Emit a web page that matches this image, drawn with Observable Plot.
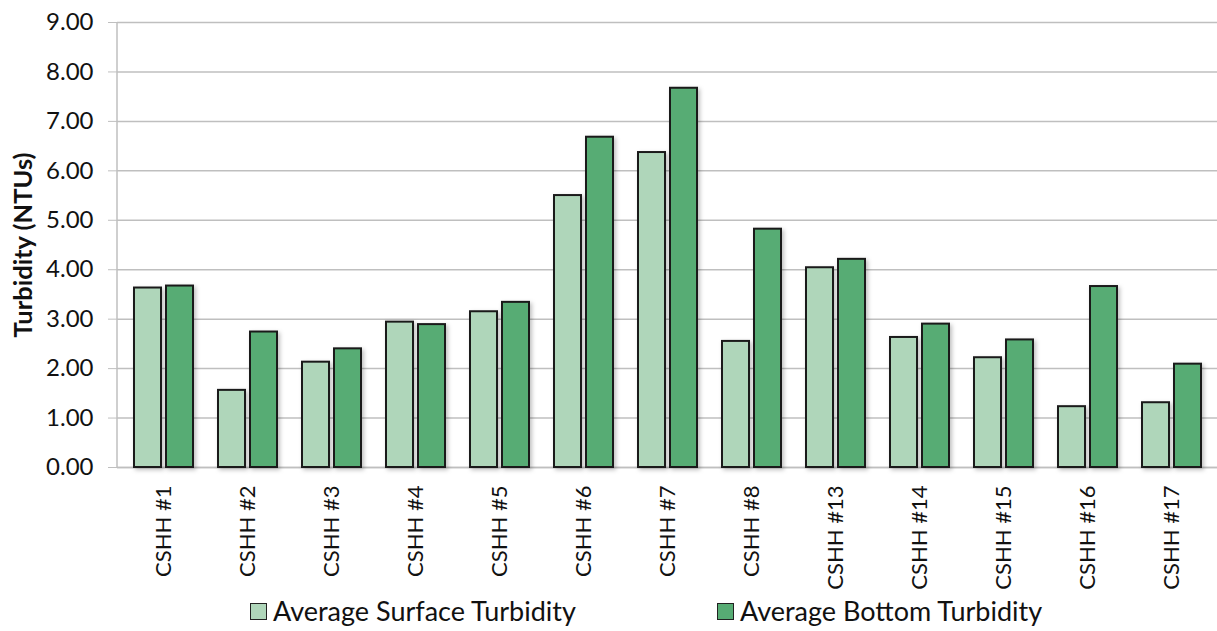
<!DOCTYPE html>
<html>
<head>
<meta charset="utf-8">
<script src="https://cdn.jsdelivr.net/npm/d3@7"></script>
<script src="https://cdn.jsdelivr.net/npm/@observablehq/plot@0.6"></script>
<style>
  html, body { margin: 0; padding: 0; background: #fff; }
  #wrap { position: relative; width: 1217px; height: 631px; font-family: Lato, "Open Sans", sans-serif; }
  #chart svg rect.bar { filter: drop-shadow(2px 2px 2px rgba(0,0,0,0.25)); }
  #chart svg g[aria-label='y-axis tick label'] { font-size: 24px !important; }
  #chart svg g[aria-label='x-axis tick label'] { font-size: 22px !important; }
  .leg { position: absolute; top: 594px; display: flex; align-items: center; font-size: 27px; color: #111; white-space: nowrap; line-height: 34px; }
  .sw { width: 15px; height: 15px; border: 1.5px solid #222; margin-right: 6px; }
</style>
</head>
<body>
<div id="wrap">
  <div id="chart"></div>
  <div id="legend"></div>
</div>
<script>
const categories = ["CSHH #1","CSHH #2","CSHH #3","CSHH #4","CSHH #5","CSHH #6","CSHH #7","CSHH #8","CSHH #13","CSHH #14","CSHH #15","CSHH #16","CSHH #17"];
const seriesNames = ["Average Surface Turbidity", "Average Bottom Turbidity"];
const surface = [3.63, 1.56, 2.13, 2.94, 3.15, 5.50, 6.37, 2.55, 4.04, 2.63, 2.22, 1.23, 1.31];
const bottom  = [3.67, 2.74, 2.40, 2.89, 3.34, 6.68, 7.67, 4.82, 4.21, 2.90, 2.58, 3.66, 2.09];
const colors = ["#AFD6BA", "#57AC74"];
const yTicks = [0, 1, 2, 3, 4, 5, 6, 7, 8, 9];

const surfaceData = categories.map((c, i) => ({site: c, series: seriesNames[0], value: surface[i]}));
const bottomData = categories.map((c, i) => ({site: c, series: seriesNames[1], value: bottom[i]}));

const H = 631, MT = 22, MB = 164, ML = 117, MR = 0;

const chart = Plot.plot({
  width: 1217,
  height: H,
  marginTop: MT,
  marginBottom: MB,
  marginLeft: ML,
  marginRight: MR,
  style: {fontFamily: "Lato, 'Open Sans', sans-serif", background: "#fff", color: "#111"},
  x: {domain: categories, paddingInner: 0.3, paddingOuter: 0.15, label: null},
  y: {domain: [0, 9], label: null},
  color: {domain: seriesNames, range: colors},
  marks: [
    Plot.gridY(yTicks, {stroke: "#bfbfbf", strokeOpacity: 1, strokeWidth: 1.5}),
    (index, scales, values, dims) => {
      const g = d3.create("svg:g");
      g.append("line")
        .attr("x1", dims.marginLeft).attr("x2", dims.marginLeft)
        .attr("y1", dims.marginTop).attr("y2", dims.height - dims.marginBottom)
        .attr("stroke", "#bfbfbf").attr("stroke-width", 1.5);
      return g.node();
    },
    Plot.ruleY([0], {stroke: "#bfbfbf", strokeWidth: 1.5}),
    Plot.barY(surfaceData, {x: "site", y: "value", fill: "series", stroke: "#1a1a1a", strokeWidth: 2, insetRight: 32}),
    Plot.barY(bottomData, {x: "site", y: "value", fill: "series", stroke: "#1a1a1a", strokeWidth: 2, insetLeft: 32}),
    Plot.axisY(yTicks, {tickFormat: d3.format(".2f"), tickSize: 9, tickPadding: 15, stroke: "#bfbfbf", fill: "#111", fontSize: 24, label: null}),
    Plot.axisX({tickRotate: -90, tickSize: 0, tickPadding: 18, fontSize: 22, fill: "#111", label: null}),
    Plot.text(["Turbidity (NTUs)"], {frameAnchor: "left", textAnchor: "middle", dx: -94, rotate: -90, fontWeight: "bold", fontSize: 25.5, fill: "#111"})
  ]
});
document.getElementById("chart").appendChild(chart);
d3.select(chart).selectAll("g[aria-label='bar'] rect").classed("bar", true);
d3.select(chart).selectAll("g[aria-label='y-axis tick label']").attr("font-size", 24);
d3.select(chart).selectAll("g[aria-label='x-axis tick label']").attr("font-size", 22);

const legendLefts = [250, 717];
const legend = document.getElementById("legend");
seriesNames.forEach((name, i) => {
  const item = document.createElement("div");
  item.className = "leg";
  item.style.left = legendLefts[i] + "px";
  const sw = document.createElement("div");
  sw.className = "sw";
  sw.style.background = colors[i];
  const t = document.createElement("span");
  t.textContent = name;
  item.appendChild(sw);
  item.appendChild(t);
  legend.appendChild(item);
});
</script>
</body>
</html>
